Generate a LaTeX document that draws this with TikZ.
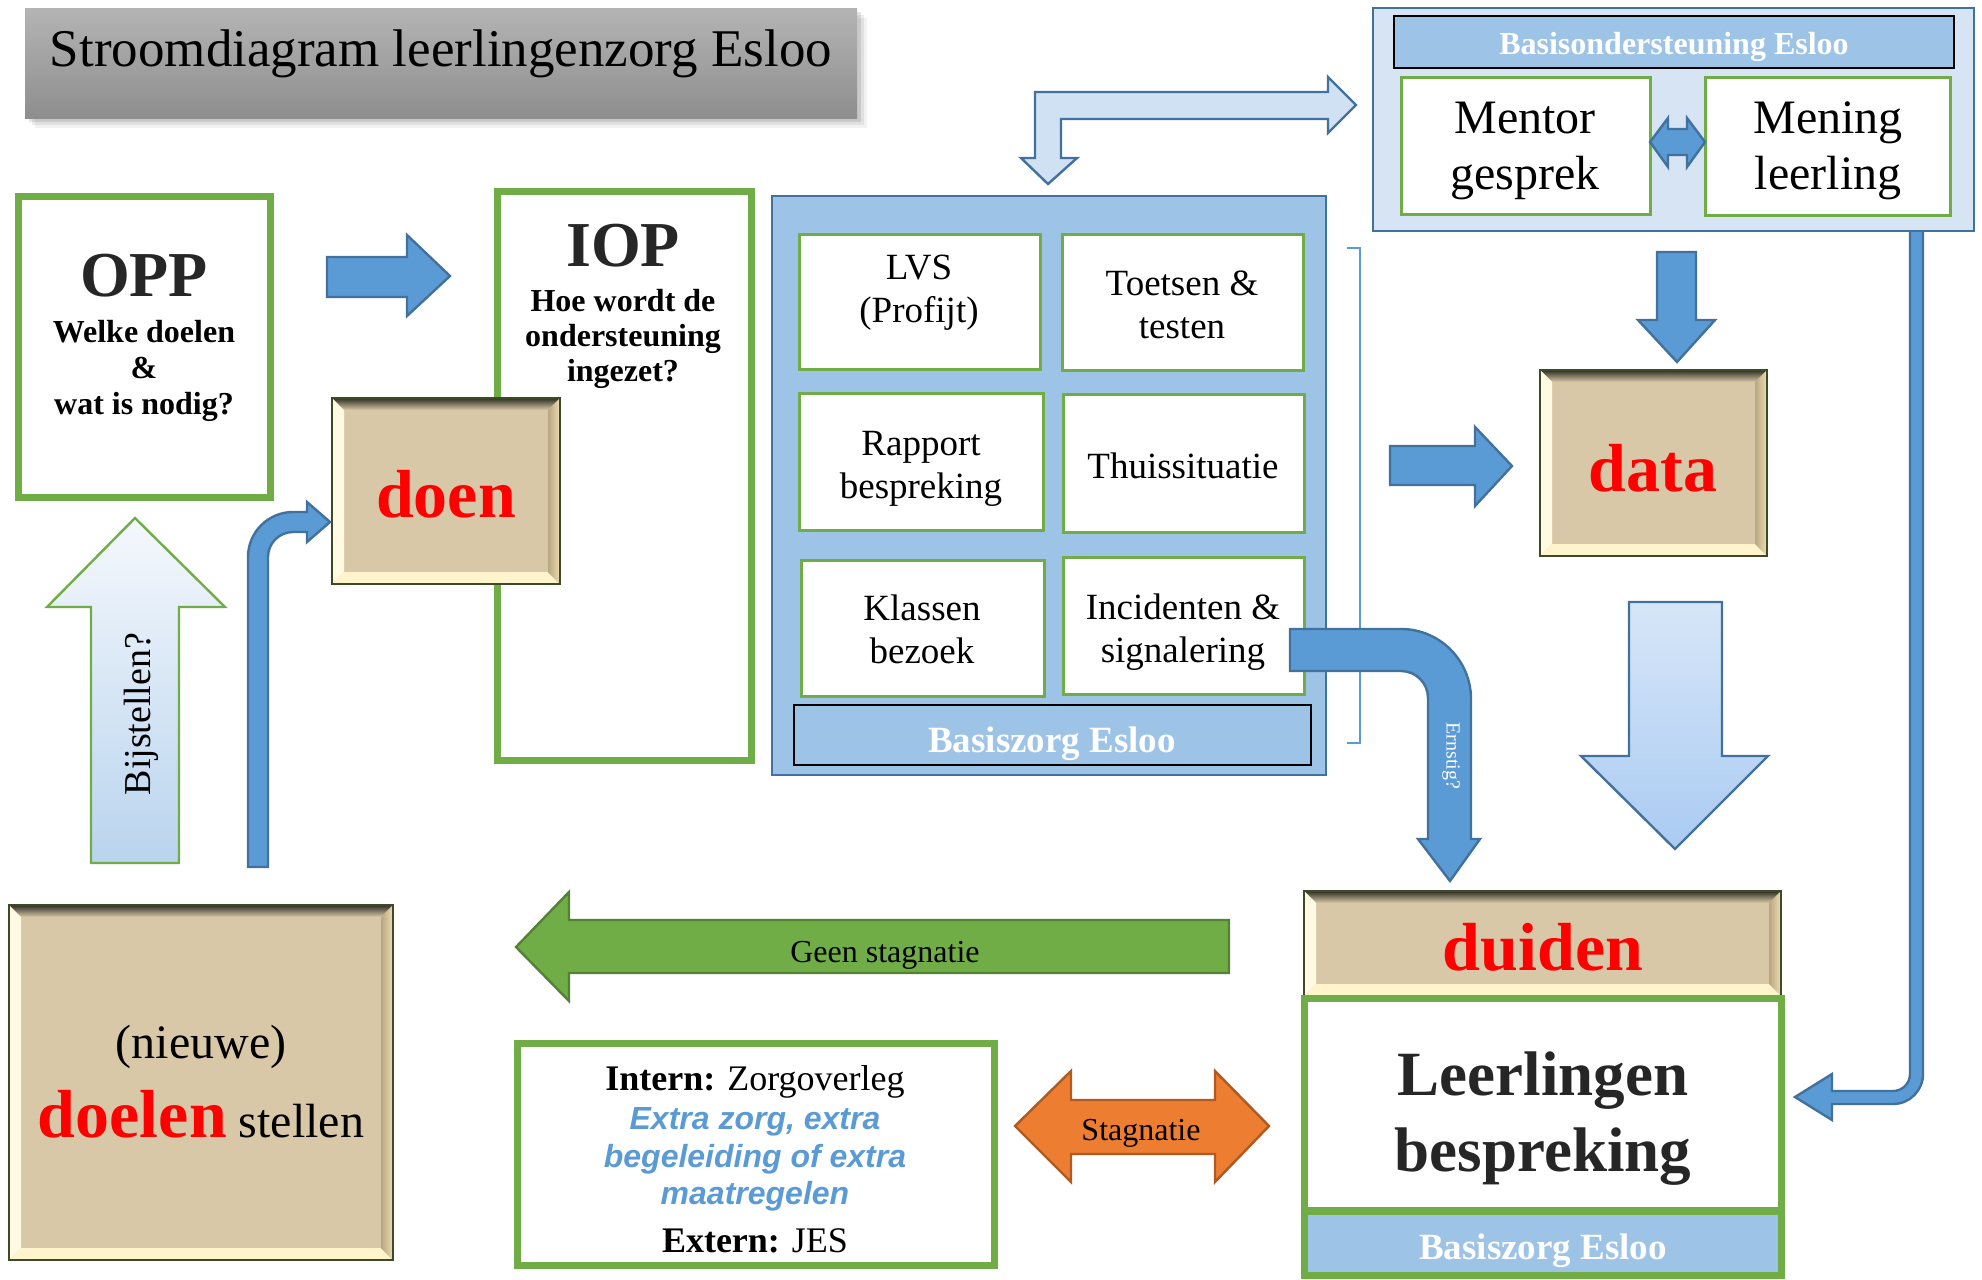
\documentclass[tikz,border=0pt]{standalone}
\usepackage{fontspec}
\setmainfont{Liberation Serif}
\newfontfamily\arialf{Liberation Sans}
\definecolor{ogreen}{HTML}{70AD47}
\definecolor{dgreen}{HTML}{548235}
\definecolor{oblue}{HTML}{5B9BD5}
\definecolor{dblue}{HTML}{41719C}
\definecolor{lblue}{HTML}{9DC3E6}
\definecolor{pblue}{HTML}{D6E4F3}
\definecolor{llblue}{HTML}{CFE1F3}
\definecolor{tanc}{HTML}{D8C8A8}
\definecolor{bevdark}{HTML}{2E2E22}
\definecolor{bevlight}{HTML}{FFFBE3}
\definecolor{bevcream}{HTML}{FFF4CC}
\definecolor{bevmid}{HTML}{B8A682}
\definecolor{bevright}{HTML}{EEDDB0}
\definecolor{bevline}{HTML}{3C4A28}
\definecolor{orng}{HTML}{ED7D31}
\definecolor{dorng}{HTML}{AE5A21}
\definecolor{tgray}{HTML}{262626}
\definecolor{ttop}{HTML}{B4B4B4}
\definecolor{tbot}{HTML}{8E8E8E}
\definecolor{bijtop}{HTML}{F5F8FD}
\definecolor{bijbot}{HTML}{B9D4EE}
\definecolor{bigtop}{HTML}{D7E6F8}
\definecolor{bigbot}{HTML}{AACBF2}
\newcommand\fsz[2]{\fontsize{#1}{#2}\selectfont}
% box node: [style]{name}{x1}{y1}{x2}{y2}
\newcommand\Bx[6][]{%
  \node[#1, minimum width={(#5-#3)*0.5pt}, minimum height={(#6-#4)*0.5pt}] (#2) at ({(#3+#5)/2},{(#4+#6)/2}) {};}
\tikzset{
  gbox/.style={draw=ogreen, line width=3.5pt, fill=white, inner sep=0pt},
  tbox/.style={draw=ogreen, line width=1.5pt, fill=white, inner sep=0pt},
  ttext/.style={align=center, font=\fsz{18.5}{21.5}},
  barbox/.style={draw=black, line width=0.6pt, fill=lblue, inner sep=0pt},
  bartext/.style={text=white, font=\bfseries\fsz{18.5}{22}},
  barrow/.style={fill=oblue, draw=dblue, line width=1.2pt, line join=miter},
  titlebox/.style={draw=none, top color=ttop, bottom color=tbot, inner sep=0pt},
  bevel/.style={draw=bevline, line width=0.9pt, fill=tanc, inner sep=0pt,
    path picture={
      \coordinate (pNW) at (path picture bounding box.north west);
      \coordinate (pNE) at (path picture bounding box.north east);
      \coordinate (pSW) at (path picture bounding box.south west);
      \coordinate (pSE) at (path picture bounding box.south east);
      \coordinate (qNW) at ([shift={(6pt,-6pt)}]pNW);
      \coordinate (qNE) at ([shift={(-6pt,-6pt)}]pNE);
      \coordinate (qSW) at ([shift={(6pt,6pt)}]pSW);
      \coordinate (qSE) at ([shift={(-6pt,6pt)}]pSE);
      \shade[top color=bevdark, bottom color=tanc] (pNW) -- (pNE) -- (qNE) -- (qNW) -- cycle;
      \fill[bevlight] (pNW) -- (qNW) -- (qSW) -- (pSW) -- cycle;
      \fill[bevcream] (pSW) -- (qSW) -- (qSE) -- (pSE) -- cycle;
      \shade[left color=bevmid, right color=bevright] (pNE) -- (qNE) -- (qSE) -- (pSE) -- cycle;
    }},
  redword/.style={text=red, font=\bfseries\fsz{34}{40}},
  bluetext/.style={}
}
\newcommand\blueit[1]{{\arialf\bfseries\itshape\color{oblue}\fsz{16}{18.7}#1}}
\begin{document}
\begin{tikzpicture}[x=0.5pt,y=-0.5pt]
\useasboundingbox[fill=white] (0,0) rectangle (1982,1280);

% ---------- title ----------
\foreach \d/\o in {10/0.05,7/0.07,4/0.10}
  \fill[black,opacity=\o] (25+\d,8+\d) rectangle (857+\d,118+\d);
\Bx[titlebox]{title}{25}{8}{857}{118}
\node[font=\fsz{26.5}{30}] (title-t) at (441,54) {Stroomdiagram leerlingenzorg Esloo};

% ---------- OPP ----------
\Bx[gbox]{opp}{18}{196}{270}{497}
\node[font=\bfseries\fsz{32}{36}, text=tgray] (opp-h) at (144,276) {OPP};
\node[font=\bfseries\fsz{16}{18}, align=center] (opp-s) at (144,371) {Welke doelen\\\&\\wat is nodig?};

% ---------- IOP ----------
\Bx[gbox]{iop}{497}{191}{751}{760}
\node[font=\bfseries\fsz{32}{36}, text=tgray] (iop-h) at (623,246) {IOP};
\node[font=\bfseries\fsz{16}{17.5}, align=center] (iop-s) at (623,339) {Hoe wordt de\\ondersteuning\\ingezet?};

% arrow OPP -> IOP
\draw[barrow] (327,257) -- (407,257) -- (407,235) -- (450,276) -- (407,316) -- (407,297) -- (327,297) -- cycle;

% ---------- doen ----------
\Bx[bevel]{doen}{332}{398}{560}{584}
\node[redword] (doen-t) at (446,494) {doen};
\draw[barrow] (248,867) -- (248,557) .. controls (248,532.2) and (268.2,512) .. (293,512) -- (307,512) -- (307,502) -- (330,522) -- (307,542) -- (307,532) -- (293,532) .. controls (279.2,532) and (268,543.2) .. (268,557) -- (268,867) -- cycle;

% ---------- Bijstellen ----------
\draw[draw=ogreen, line width=1.2pt, top color=bijtop, bottom color=bijbot] (91,863) -- (91,607) -- (47,607) -- (135,518) -- (225,607) -- (179,607) -- (179,863) -- cycle;
\node[rotate=90, font=\fsz{19}{22}] (bij) at (141,714) {Bijstellen?};

% ---------- doelen ----------
\Bx[bevel]{doelen}{9}{905}{393}{1260}
\node[align=center, font=\fsz{24}{39.5}] (doelen-t) at (201,1082) {(nieuwe)\\{\color{red}\bfseries\fsz{34}{39.5}doelen} stellen};

% ---------- Basiszorg block ----------
\Bx[draw=dblue, line width=1.2pt, fill=lblue, inner sep=0pt]{bz}{772}{196}{1326}{775}
\Bx[tbox]{lvs}{799}{234}{1040}{369}
\node[ttext] (lvs-t) at (919,292.5) {LVS\\(Profijt)};
\Bx[tbox]{toets}{1062}{234}{1303}{370}
\node[ttext] (toets-t) at (1182,305) {Toetsen \&\\testen};
\Bx[tbox]{rapp}{799}{393}{1043}{530}
\node[ttext] (rapp-t) at (921,468.5) {Rapport\\bespreking};
\Bx[tbox]{thuis}{1063}{394}{1304}{532}
\node[ttext] (thuis-t) at (1183,465.5) {Thuissituatie};
\Bx[tbox]{klas}{801}{560}{1044}{696}
\node[ttext] (klas-t) at (922,629) {Klassen\\bezoek};
\Bx[tbox]{inc}{1063}{557}{1304}{694}
\node[ttext] (inc-t) at (1183,632.5) {Incidenten \&\\signalering};
\Bx[barbox]{bzbar}{794}{705}{1311}{765}
\node[bartext] (bzbar-t) at (1052,744) {Basiszorg Esloo};
\draw[oblue, line width=1.3pt] (1347,248) -- (1360,248) -- (1360,743) -- (1347,743);

% L-shaped double arrow
\draw[draw=dblue, line width=1.2pt, fill=llblue, line join=miter] (1035,92) -- (1328,92) -- (1328,77) -- (1356,105) -- (1328,133) -- (1328,119) -- (1061,119) -- (1061,158) -- (1077,158) -- (1048,184) -- (1021,158) -- (1035,158) -- cycle;

% ---------- right path to Leerlingen bespreking ----------
\draw[barrow] (1910,226) -- (1923,226) -- (1923,1074) .. controls (1923,1090.6) and (1909.6,1104) .. (1893,1104) -- (1832,1104) -- (1832,1120) -- (1795,1097) -- (1832,1074) -- (1832,1091) -- (1893,1091) .. controls (1902.4,1091) and (1910,1083.4) .. (1910,1074) -- cycle;

% ---------- Basisondersteuning ----------
\Bx[draw=dblue, line width=1.3pt, fill=pblue, inner sep=0pt]{bo}{1373}{8}{1974}{231}
\Bx[barbox]{bobar}{1394}{16}{1954}{68}
\node[text=white, font=\bfseries\fsz{16}{19}] (bobar-t) at (1674,47) {Basisondersteuning Esloo};
\Bx[tbox]{mentor}{1401}{77}{1650}{214}
\node[align=center, font=\fsz{24}{28}] (mentor-t) at (1525,150.5) {Mentor\\gesprek};
\Bx[tbox]{mening}{1705}{77}{1950}{215}
\node[align=center, font=\fsz{24}{28}] (mening-t) at (1828,151) {Mening\\leerling};
\draw[barrow] (1650,142) -- (1668,118) -- (1668,129) -- (1687,129) -- (1687,118) -- (1705,142) -- (1687,167) -- (1687,155) -- (1668,155) -- (1668,167) -- cycle;

% ---------- data ----------
\draw[barrow] (1657,252) -- (1696,252) -- (1696,320) -- (1715,320) -- (1677,362) -- (1638,320) -- (1657,320) -- cycle;
\Bx[bevel]{data}{1540}{370}{1767}{556}
\node[redword] (data-t) at (1653,468) {data};
\draw[barrow] (1390,446) -- (1475,446) -- (1475,427) -- (1512,466) -- (1475,506) -- (1475,485) -- (1390,485) -- cycle;
\draw[draw=dblue, line width=1.2pt, top color=bigtop, bottom color=bigbot] (1629,602) -- (1722,602) -- (1722,756) -- (1768,756) -- (1675,849) -- (1581,756) -- (1629,756) -- cycle;

% ---------- Ernstig? ----------
\draw[barrow] (1290,629) -- (1401,629) .. controls (1439.6,629) and (1471,660.4) .. (1471,699) -- (1471,839) -- (1480,839) -- (1450,881) -- (1418,839) -- (1428,839) -- (1428,698) .. controls (1428,683.1) and (1415.9,671) .. (1401,671) -- (1290,671) -- cycle;
\node[rotate=-90, text=white, font=\fsz{10}{12}] (ernst) at (1451,756) {Ernstig?};

% ---------- duiden / Leerlingen bespreking ----------
\Bx[bevel]{duiden}{1304}{891}{1781}{996}
\node[redword] (duiden-t) at (1543,947.5) {duiden};
\Bx[gbox]{lb}{1304}{998}{1781}{1210}
\node[align=center, font=\bfseries\fsz{31.5}{38}, text=tgray] (lb-t) at (1543,1119) {Leerlingen\\bespreking};
\Bx[gbox, fill=lblue]{lbbar}{1304}{1211}{1781}{1275}
\node[bartext] (lbbar-t) at (1543,1251) {Basiszorg Esloo};

% ---------- Geen stagnatie ----------
\draw[fill=ogreen, draw=dgreen, line width=1.2pt] (1229,920) -- (569,920) -- (569,892) -- (516,947) -- (569,1001) -- (569,973) -- (1229,973) -- cycle;
\node[font=\fsz{16}{19}] (geen) at (885,955) {Geen stagnatie};

% ---------- Intern / Extern ----------
\Bx[gbox]{intern}{517}{1043}{994}{1265}
\node[align=center, font=\fsz{18}{18.7}] (intern-t) at (755,1159) {{\bfseries Intern:} Zorgoverleg\\[1pt]\blueit{Extra zorg, extra}\\\blueit{begeleiding of extra}\\\blueit{maatregelen}\\[5pt]{\bfseries Extern:} JES};

% ---------- Stagnatie ----------
\draw[fill=orng, draw=dorng, line width=1.2pt] (1015,1126) -- (1071,1071) -- (1071,1100) -- (1215,1100) -- (1215,1071) -- (1269,1126) -- (1215,1182) -- (1215,1154) -- (1071,1154) -- (1071,1182) -- cycle;
\node[font=\fsz{16}{19}] (stag) at (1141,1133) {Stagnatie};
\end{tikzpicture}
\end{document}
